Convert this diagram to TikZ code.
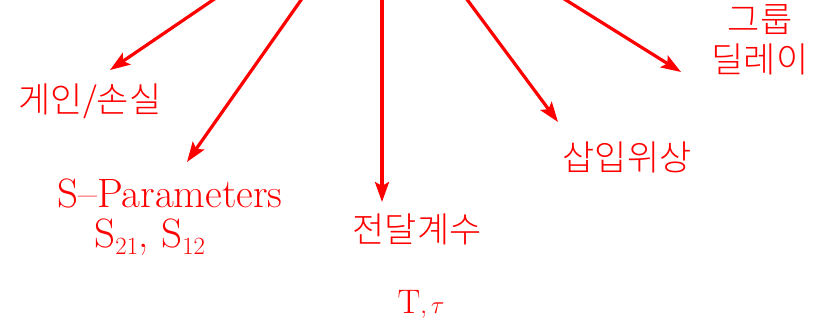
\documentclass[tikz,border=0pt]{standalone}
\usepackage{fontspec}
\newfontfamily\krfont{Noto Sans CJK KR Light}
\usetikzlibrary{arrows.meta}
\begin{document}
\begin{tikzpicture}[x=1bp,y=-1bp,>={Stealth[length=20bp,width=14bp,inset=4bp]},
    arr/.style={->,red,line width=3.2bp},
    kr/.style={text=red,font=\krfont\fontsize{35bp}{40bp}\selectfont,align=center,inner sep=0pt},
    lat/.style={text=red,font=\fontsize{41bp}{44bp}\selectfont,align=center,inner sep=0pt}]
    \clip (0,0) rectangle (825,327);
    % hub above the frame
    \coordinate (hub) at (382,-115);
    % arrow ends
    \coordinate (gainTip) at (110,70);
    \coordinate (sparTip) at (187,162);
    \coordinate (transTip) at (382,202);
    \coordinate (phaseTip) at (558,122);
    \coordinate (delayTip) at (681,72);
    % labels
    \node[kr] (gain) at (90,101) {게인/손실};
    \node[lat,anchor=base] (spar) at (170,207) {S--Parameters};
    \node[lat,anchor=base] (sparSub) at (150,247) {S$_{21}$, S$_{12}$};
    \node[kr] (trans) at (417,229) {전달계수};
    \node[text=red,font=\fontsize{34bp}{38bp}\selectfont,inner sep=0pt,anchor=base] (transSym) at (421,313) {$\mathrm{T},\tau$};
    \node[kr] (phase) at (627,157) {삽입위상};
    \node[kr] (delay) at (760,40) {그룹\\[0bp]딜레이};
    % arrows
    \draw[arr] (hub) -- (gainTip);
    \draw[arr] (hub) -- (sparTip);
    \draw[arr] (hub) -- (transTip);
    \draw[arr] (hub) -- (phaseTip);
    \draw[arr] (hub) -- (delayTip);
\end{tikzpicture}
\end{document}
